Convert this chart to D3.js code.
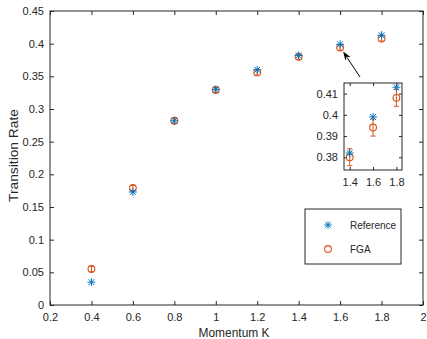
<!DOCTYPE html>
<html>
<head>
<meta charset="utf-8">
<script src="https://cdn.jsdelivr.net/npm/d3@7"></script>
<style>
  html, body { margin: 0; padding: 0; background: #fff; }
  svg { display: block; font-family: "Liberation Sans", Arial, sans-serif; }
</style>
</head>
<body>
<svg id="chart" width="427" height="339"></svg>
<script>
// data
const momentum = [0.4, 0.6, 0.8, 1.0, 1.2, 1.4, 1.6, 1.8];
const reference = [0.035, 0.173, 0.282, 0.330, 0.360, 0.382, 0.399, 0.413];
const fga = [0.055, 0.179, 0.282, 0.329, 0.356, 0.380, 0.394, 0.408];
const fgaErr = [0.004, 0.004, 0.004, 0.004, 0.004, 0.004, 0.004, 0.004];
const xTicks = [0.2, 0.4, 0.6, 0.8, 1, 1.2, 1.4, 1.6, 1.8, 2];
const yTicks = [0, 0.05, 0.1, 0.15, 0.2, 0.25, 0.3, 0.35, 0.4, 0.45];
const insetXTicks = [1.4, 1.6, 1.8];
const insetYTicks = [0.38, 0.39, 0.4, 0.41];

const BLUE = '#0072BD', ORANGE = '#D95319', AX = '#262626';
const svg = d3.select('#chart');

const x = d3.scaleLinear().domain([0.2, 2]).range([50, 423]);
const y = d3.scaleLinear().domain([0, 0.45]).range([305, 11]);

function star(g, cx, cy, r) {
  const d = r * 0.72;
  g.append('path')
    .attr('d', `M${cx - r},${cy}H${cx + r}M${cx},${cy - r}V${cy + r}` +
      `M${cx - d},${cy - d}L${cx + d},${cy + d}M${cx - d},${cy + d}L${cx + d},${cy - d}`)
    .attr('stroke', BLUE).attr('stroke-width', 1).attr('fill', 'none');
}

function drawBox(xs, ys, xt, yt, fmtX, fmtY, tickLen) {
  const [x0, x1] = xs.range(), [y0, y1] = ys.range();
  const g = svg.append('g');
  // inward ticks on all four sides, MATLAB style
  g.append('g').attr('transform', `translate(0,${y0})`)
    .call(d3.axisBottom(xs).tickValues(xt).tickFormat(fmtX).tickSizeInner(-tickLen).tickSizeOuter(0).tickPadding(8));
  g.append('g').attr('transform', `translate(${x0},0)`)
    .call(d3.axisLeft(ys).tickValues(yt).tickFormat(fmtY).tickSizeInner(-tickLen).tickSizeOuter(0).tickPadding(6));
  g.append('g').attr('transform', `translate(0,${y1})`)
    .call(d3.axisTop(xs).tickValues(xt).tickFormat('').tickSizeInner(-tickLen).tickSizeOuter(0));
  g.append('g').attr('transform', `translate(${x1},0)`)
    .call(d3.axisRight(ys).tickValues(yt).tickFormat('').tickSizeInner(-tickLen).tickSizeOuter(0));
  g.selectAll('.domain').remove();
  g.selectAll('line').attr('stroke', AX);
  g.selectAll('text').attr('fill', AX).attr('font-size', '11px').attr('font-family', '"Liberation Sans", Arial, sans-serif');
  g.append('rect').attr('x', x0).attr('y', y1).attr('width', x1 - x0).attr('height', y0 - y1)
    .attr('fill', 'none').attr('stroke', AX).attr('stroke-width', 1);
  return g;
}

function drawPoints(xs, ys, idx, capW, r) {
  const g = svg.append('g');
  idx.forEach(i => {
    const cx = xs(momentum[i]);
    const lo = ys(fga[i] - fgaErr[i]), hi = ys(fga[i] + fgaErr[i]);
    g.append('path')
      .attr('d', `M${cx},${lo}V${hi}M${cx - capW},${lo}H${cx + capW}M${cx - capW},${hi}H${cx + capW}`)
      .attr('stroke', ORANGE).attr('stroke-width', 1).attr('fill', 'none');
    g.append('circle').attr('cx', cx).attr('cy', ys(fga[i])).attr('r', r)
      .attr('fill', 'none').attr('stroke', ORANGE).attr('stroke-width', 1.1);
    star(g, cx, ys(reference[i]), r + 0.6);
  });
}

const fmt2 = d => d === 0 ? '0' : String(+d.toFixed(2));
drawBox(x, y, xTicks, yTicks, fmt2, fmt2, 4);
drawPoints(x, y, d3.range(momentum.length), 2, 3.4);

// axis titles
svg.append('text').attr('x', 234).attr('y', 336.5).attr('text-anchor', 'middle')
  .attr('font-size', '12px').attr('fill', AX)
  .attr('textLength', 71).attr('lengthAdjust', 'spacingAndGlyphs').text('Momentum K');
svg.append('text').attr('transform', 'translate(18,155.5) rotate(-90)').attr('text-anchor', 'middle')
  .attr('font-size', '12.5px').attr('fill', AX)
  .attr('textLength', 93).attr('lengthAdjust', 'spacingAndGlyphs').text('Transition Rate');

// inset
const xi = d3.scaleLinear().domain([1.351, 1.848]).range([344, 402]);
const yi = d3.scaleLinear().domain([0.374, 0.415]).range([170, 83]);
svg.append('rect').attr('x', 344).attr('y', 83).attr('width', 58).attr('height', 87).attr('fill', '#fff');
drawBox(xi, yi, insetXTicks, insetYTicks, d => d.toFixed(1), d => String(+d.toFixed(2)), 3);
drawPoints(xi, yi, [5, 6, 7], 2.5, 3.4);

// arrow pointing from inset to the 1.6 point
const ax0 = 360, ay0 = 77, ax1 = x(1.6) + 3, ay1 = y(0.394) + 4;
const ang = Math.atan2(ay1 - ay0, ax1 - ax0);
const hl = 9, hw = 3.2;
svg.append('line').attr('x1', ax0).attr('y1', ay0)
  .attr('x2', ax1 - Math.cos(ang) * hl * 0.8).attr('y2', ay1 - Math.sin(ang) * hl * 0.8)
  .attr('stroke', '#000').attr('stroke-width', 1);
const bx = ax1 - Math.cos(ang) * hl, by = ay1 - Math.sin(ang) * hl;
svg.append('path')
  .attr('d', `M${ax1},${ay1}L${bx - Math.sin(ang) * hw},${by + Math.cos(ang) * hw}` +
    `L${ax1 - Math.cos(ang) * hl * 0.7},${ay1 - Math.sin(ang) * hl * 0.7}` +
    `L${bx + Math.sin(ang) * hw},${by - Math.cos(ang) * hw}Z`)
  .attr('fill', '#000');

// legend
const lg = svg.append('g');
lg.append('rect').attr('x', 305).attr('y', 209).attr('width', 96).attr('height', 55)
  .attr('fill', '#fff').attr('stroke', AX).attr('stroke-width', 1);
star(lg, 328, 225, 3.8);
lg.append('circle').attr('cx', 328).attr('cy', 249).attr('r', 3.4)
  .attr('fill', 'none').attr('stroke', ORANGE).attr('stroke-width', 1.1);
lg.append('text').attr('x', 350).attr('y', 228.5).attr('font-size', '10px').attr('fill', AX).text('Reference');
lg.append('text').attr('x', 350).attr('y', 252.5).attr('font-size', '10px').attr('fill', AX).text('FGA');
</script>
</body>
</html>
